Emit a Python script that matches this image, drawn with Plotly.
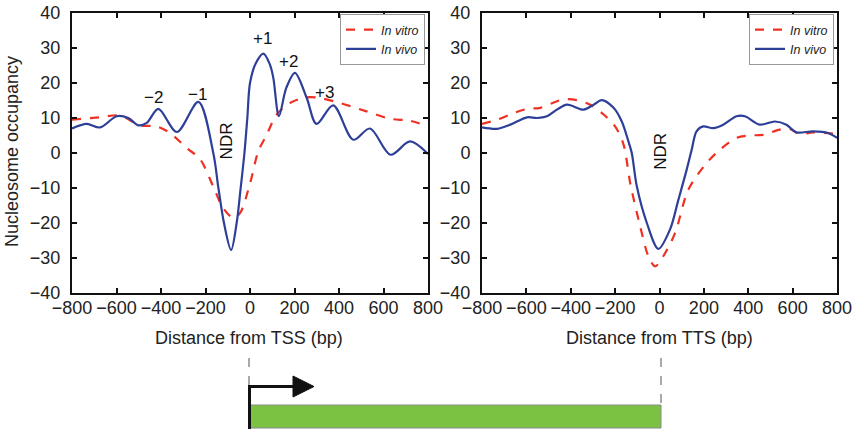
import plotly.graph_objects as go

# ---------------- data ----------------
tss_vivo_x = [-800, -734, -674, -599, -547, -502, -464, -412, -329, -232, -165, -142, -117, -85, -60, -42,
              -25, -12, 0, 25, 60, 90, 105, 130, 163, 202, 255, 299, 374, 464, 539, 632, 719, 800]
tss_vivo_y = [7.0, 8.3, 7.3, 10.5, 10.0, 7.9, 8.6, 12.6, 6.0, 14.6, 0.0, -10.0, -20.0, -27.7, -20.0, -10.0,
              0.0, 10.0, 20.0, 25.5, 28.4, 25.2, 21.4, 10.5, 18.6, 22.9, 15.7, 8.3, 13.6, 3.8, 7.0, -0.5, 3.3, -0.3]

tss_vitro_x = [-800, -674, -584, -494, -419, -359, -284, -225, -165, -120, -75, -45, 0, 37, 75, 120,
               180, 255, 315, 404, 524, 629, 719, 800]
tss_vitro_y = [9.5, 10.2, 10.7, 7.9, 7.6, 5.7, 1.4, -1.7, -9.6, -15.8, -18.5, -17.2, -8.7, 0.4, 5.2, 11.0,
               14.3, 15.9, 15.7, 14.3, 11.9, 9.8, 9.2, 7.6]

tts_vivo_x = [-800, -732, -672, -597, -552, -507, -462, -417, -342, -297, -260, -207, -170, -140, -125, -102,
              -57, -5, 47, 85, 122, 145, 167, 197, 242, 287, 347, 385, 452, 520, 572, 617, 692, 760, 800]
tts_vivo_y = [7.3, 6.9, 8.1, 10.2, 10.0, 10.5, 12.4, 13.8, 12.4, 13.8, 15.1, 12.9, 9.0, 3.3, 0.0, -9.6,
              -20.0, -27.4, -21.9, -13.4, -4.9, 0.9, 6.2, 7.6, 7.1, 8.1, 10.5, 10.5, 8.1, 9.0, 8.1, 5.9, 6.2, 5.7, 4.3]

tts_vitro_x = [-800, -732, -657, -597, -537, -462, -417, -372, -312, -252, -200, -162, -132, -87, -50, -20,
               17, 70, 130, 212, 272, 347, 407, 467, 542, 587, 632, 692, 800]
tts_vitro_y = [8.3, 9.5, 11.4, 12.6, 12.9, 14.8, 15.4, 15.1, 13.8, 11.0, 7.6, 2.4, -8.6, -21.0, -29.5, -32.4,
               -29.5, -22.9, -10.5, -2.9, 0.9, 4.3, 5.0, 5.2, 6.7, 6.9, 5.4, 5.9, 5.4]

x_ticks = [-800, -600, -400, -200, 0, 200, 400, 600, 800]
y_ticks = [-40, -30, -20, -10, 0, 10, 20, 30, 40]

peak_labels = ["\u22122", "\u22121", "+1", "+2", "+3"]
peak_x = [-435, -235, 55, 175, 335]
peak_y = [15.8, 16.6, 32.6, 26.0, 17.4]

# ---------------- style ----------------
W, H = 858, 432
FONT = "Liberation Sans, Arial, Helvetica, sans-serif"
BLUE = "#2e3f98"
RED = "#ee3124"

def px(x):
    return x / W

def py(y):
    return 1 - y / H

fig = go.Figure()

fig.add_trace(go.Scatter(x=tss_vitro_x, y=tss_vitro_y, mode="lines", name="<i>In vitro</i>",
                         line=dict(color=RED, width=2.2, dash="dash", shape="spline", smoothing=0.9),
                         xaxis="x", yaxis="y", legend="legend"))
fig.add_trace(go.Scatter(x=tss_vivo_x, y=tss_vivo_y, mode="lines", name="<i>In vivo</i>",
                         line=dict(color=BLUE, width=2.2, shape="spline", smoothing=0.9),
                         xaxis="x", yaxis="y", legend="legend"))
fig.add_trace(go.Scatter(x=tts_vitro_x, y=tts_vitro_y, mode="lines", name="<i>In vitro</i>",
                         line=dict(color=RED, width=2.2, dash="dash", shape="spline", smoothing=0.9),
                         xaxis="x2", yaxis="y2", legend="legend2"))
fig.add_trace(go.Scatter(x=tts_vivo_x, y=tts_vivo_y, mode="lines", name="<i>In vivo</i>",
                         line=dict(color=BLUE, width=2.2, shape="spline", smoothing=0.9),
                         xaxis="x2", yaxis="y2", legend="legend2"))

axis_common = dict(
    range=[-800, 800], tickvals=x_ticks, ticks="inside", ticklen=5, tickwidth=1.5, tickcolor="#111",
    showline=True, linecolor="#111", linewidth=2, mirror="ticks", showgrid=False, zeroline=False,
    automargin=False, ticklabeloverflow="allow",
    tickangle=0, tickfont=dict(family=FONT, size=18, color="#222"), ticklabelstandoff=-3,
)
yaxis_common = dict(
    range=[-40, 40], tickvals=y_ticks, ticks="inside", ticklen=5, tickwidth=1.5, tickcolor="#111",
    showline=True, linecolor="#111", linewidth=2, mirror="ticks", showgrid=False, zeroline=False,
    automargin=False, ticklabeloverflow="allow",
    tickfont=dict(family=FONT, size=18, color="#222"), ticklabelstandoff=6,
)

ytop, ybot = py(13), py(293)
fig.update_layout(
    template="none",
    width=W, height=H, margin=dict(l=0, r=0, t=0, b=0, autoexpand=False),
    paper_bgcolor="white", plot_bgcolor="white",
    xaxis=dict(domain=[px(72), px(428)], anchor="y", **axis_common),
    yaxis=dict(domain=[ybot, ytop], anchor="x", **yaxis_common),
    xaxis2=dict(domain=[px(482), px(837)], anchor="y2", **axis_common),
    yaxis2=dict(domain=[ybot, ytop], anchor="x2", **yaxis_common),
    legend=dict(x=px(425), y=py(14), xanchor="right", yanchor="top", bgcolor="white",
                bordercolor="#999", borderwidth=1, font=dict(family=FONT, size=12.5, color="#222"),
                tracegroupgap=0, itemwidth=30),
    legend2=dict(x=px(834), y=py(14), xanchor="right", yanchor="top", bgcolor="white",
                 bordercolor="#999", borderwidth=1, font=dict(family=FONT, size=12.5, color="#222"),
                 tracegroupgap=0, itemwidth=30),
    showlegend=True,
)

annotations = []
for lab, xv, yv in zip(peak_labels, peak_x, peak_y):
    annotations.append(dict(x=xv, y=yv, xref="x", yref="y", text=lab, showarrow=False,
                            xanchor="center", yanchor="middle",
                            font=dict(family=FONT, size=17, color="#111")))
annotations.append(dict(x=-105, y=3.5, xref="x", yref="y", text="NDR", textangle=-90, showarrow=False,
                        xanchor="center", yanchor="middle", font=dict(family=FONT, size=17, color="#111")))
annotations.append(dict(x=5, y=0.5, xref="x2", yref="y2", text="NDR", textangle=-90, showarrow=False,
                        xanchor="center", yanchor="middle", font=dict(family=FONT, size=17, color="#111")))
annotations.append(dict(x=px(249), y=py(338), xref="paper", yref="paper", text="Distance from TSS (bp)",
                        xanchor="center", yanchor="middle",
                        showarrow=False, font=dict(family=FONT, size=18, color="#222")))
annotations.append(dict(x=px(659), y=py(338), xref="paper", yref="paper", text="Distance from TTS (bp)",
                        xanchor="center", yanchor="middle",
                        showarrow=False, font=dict(family=FONT, size=18, color="#222")))
annotations.append(dict(x=px(12), y=py(152), xref="paper", yref="paper", text="Nucleosome occupancy",
                        xanchor="center", yanchor="middle",
                        textangle=-90, showarrow=False, font=dict(family=FONT, size=18, color="#222")))
fig.update_layout(annotations=annotations)

# ---------------- gene diagram ----------------
shapes = [
    dict(type="rect", xref="paper", yref="paper", x0=px(249), x1=px(661), y0=py(428), y1=py(405),
         fillcolor="#7cc242", line=dict(color="#8a8a8a", width=1)),
    dict(type="line", xref="paper", yref="paper", x0=px(249), x1=px(249), y0=py(358), y1=py(403),
         line=dict(color="#555", width=1, dash="dash")),
    dict(type="line", xref="paper", yref="paper", x0=px(661), x1=px(661), y0=py(358), y1=py(403),
         line=dict(color="#555", width=1, dash="dash")),
    dict(type="line", xref="paper", yref="paper", x0=px(249.5), x1=px(249.5), y0=py(429), y1=py(385),
         line=dict(color="#111", width=3)),
    dict(type="line", xref="paper", yref="paper", x0=px(248), x1=px(298), y0=py(386.5), y1=py(386.5),
         line=dict(color="#111", width=3)),
    dict(type="path", xref="paper", yref="paper",
         path=f"M {px(293)},{py(376)} L {px(314)},{py(386.5)} L {px(293)},{py(397)} Z",
         fillcolor="#111", line=dict(color="#111", width=1)),
]
fig.update_layout(shapes=shapes)

fig.write_html("out.html", config={"displayModeBar": False},
               post_script="document.body.style.margin='0';document.body.style.overflow='hidden';")
